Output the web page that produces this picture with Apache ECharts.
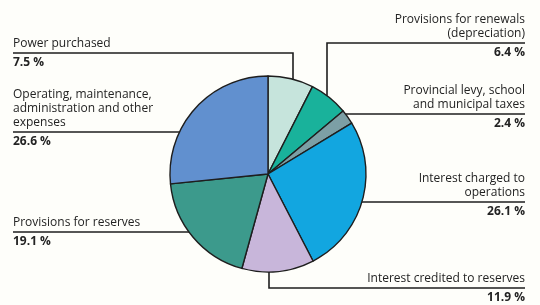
<!DOCTYPE html>
<html>
<head>
<meta charset="utf-8">
<script src="https://cdn.jsdelivr.net/npm/echarts@6/dist/echarts.min.js"></script>
<style>
  html, body { margin: 0; padding: 0; background: #fefefa; }
  #chart { width: 540px; height: 305px; }
</style>
</head>
<body>
<div id="chart"></div>
<script>
// slices, clockwise from 12 o'clock
const names = [
    'Power purchased',
    'Provisions for renewals\n(depreciation)',
    'Provincial levy, school\nand municipal taxes',
    'Interest charged to\noperations',
    'Interest credited to reserves',
    'Provisions for reserves',
    'Operating, maintenance,\nadministration and other\nexpenses'
];
const shares = [7.5, 6.4, 2.4, 26.1, 11.9, 19.1, 26.6];
const valueLabels = ['7.5 %', '6.4 %', '2.4 %', '26.1 %', '11.9 %', '19.1 %', '26.6 %'];
const colors = ['#c6e4dc', '#19b29b', '#7c9fa5', '#12a6e0', '#c8b6da', '#3c9a8c', '#6190cf'];

// where each label sits (layout only)
const labelSpots = [
    { side: 'left', lineY: 53, elbowX: 293 },
    { side: 'right', lineY: 43, elbowX: 327 },
    { side: 'right', lineY: 114 },
    { side: 'right', lineY: 202 },
    { side: 'right', lineY: 288, elbowX: 269 },
    { side: 'left', lineY: 232 },
    { side: 'left', lineY: 132 }
];

const cx = 268, cy = 174, r = 98;
const leftX = 13, rightX = 525;
const font = 'Open Sans';

//折线点：饼图边缘 -> 拐点 -> 文字
function leaderPoints(spot) {
    const endX = spot.side === 'left' ? leftX : rightX;
    if (spot.elbowX != null) {
        const dx = spot.elbowX - cx;
        const dy = Math.sqrt(r * r - dx * dx);
        const edgeY = spot.lineY > cy ? cy + dy : cy - dy;
        return [[spot.elbowX, edgeY], [spot.elbowX, spot.lineY], [endX, spot.lineY]];
    }
    const dy = spot.lineY - cy;
    const dx = Math.sqrt(r * r - dy * dy);
    const edgeX = spot.side === 'left' ? cx - dx : cx + dx;
    return [[edgeX, spot.lineY], [(edgeX + endX) / 2, spot.lineY], [endX, spot.lineY]];
}

const chart = echarts.init(document.getElementById('chart'), null, { renderer: 'canvas' });

const pieData = names.map((n, i) => ({
    name: n,
    value: shares[i],
    itemStyle: { color: colors[i] },
    label: { align: labelSpots[i].side === 'left' ? 'left' : 'right' }
}));

chart.setOption({
    backgroundColor: '#fefefa',
    animation: false,
    series: [{
        type: 'pie',
        center: [cx, cy],
        radius: [0, r],
        startAngle: 90,
        clockwise: true,
        data: pieData,
        itemStyle: {
            borderColor: '#1e1e1e',
            borderWidth: 1.4
        },
        emphasis: { disabled: true },
        label: {
            show: true,
            position: 'outside',
            overflow: 'none',
            width: 200,
            color: '#232323',
            fontFamily: font,
            formatter: (p) => {
                const nameLines = p.name.split('\n').map(t => '{n|' + t + '}').join('\n');
                return nameLines + '\n{v|' + valueLabels[p.dataIndex] + '}';
            },
            rich: {
                n: { fontSize: 12, lineHeight: 14, fontFamily: font, color: '#232323' },
                v: { fontSize: 12, lineHeight: 24, fontWeight: 'bold', fontFamily: font, color: '#232323' }
            }
        },
        labelLine: {
            show: true,
            lineStyle: { color: '#1e1e1e', width: 1.6 }
        },
        labelLayout: (params) => {
            const spot = labelSpots[params.dataIndex];
            return {
                x: spot.side === 'left' ? leftX : rightX,
                y: spot.lineY + 22,
                align: spot.side === 'left' ? 'left' : 'right',
                verticalAlign: 'bottom',
                labelLinePoints: leaderPoints(spot)
            };
        }
    }]
});
</script>
</body>
</html>
